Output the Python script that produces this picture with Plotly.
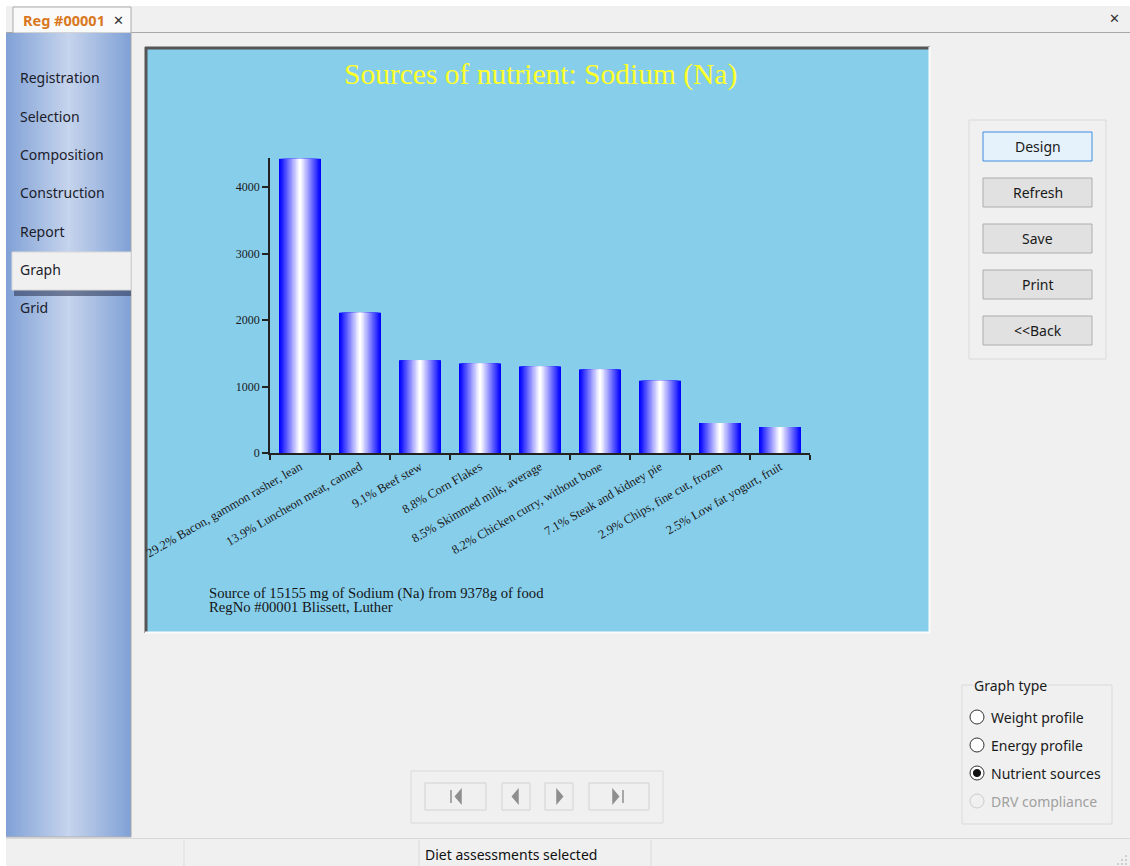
import plotly.graph_objects as go

# ---- chart data ----
pcts = ["29.2", "13.9", "9.1", "8.8", "8.5", "8.2", "7.1", "2.9", "2.5"]
foods = ["Bacon, gammon rasher, lean", "Luncheon meat, canned", "Beef stew",
         "Corn Flakes", "Skimmed milk, average", "Chicken curry, without bone",
         "Steak and kidney pie", "Chips, fine cut, frozen", "Low fat yogurt, fruit"]
sodium_mg = [4425, 2110, 1395, 1345, 1300, 1255, 1085, 450, 390]
y_ticks = [0, 1000, 2000, 3000, 4000]

title_txt = "Sources of nutrient: Sodium (Na)"
footer = ["Source of 15155 mg of Sodium (Na) from 9378g of food",
          "RegNo #00001 Blissett, Luther"]

menu = ["Registration", "Selection", "Composition", "Construction", "Report", "Graph", "Grid"]
buttons = ["Design", "Refresh", "Save", "Print", "<<Back"]
graph_types = ["Weight profile", "Energy profile", "Nutrient sources", "DRV compliance"]

labels = [f"{p}% {f}" for p, f in zip(pcts, foods)]

W, H = 1130, 866
SERIF = "Liberation Serif, Times New Roman, serif"
UI = "Noto Sans, Open Sans, sans-serif"


def X(p):
    return p / W


def Y(p):
    return 1 - p / H


shapes = []
notes = []


def rect(x0, y0, x1, y1, fill=None, line=None, lw=1):
    shapes.append(dict(type="rect", xref="paper", yref="paper",
                       x0=X(x0), x1=X(x1), y0=Y(y1), y1=Y(y0),
                       fillcolor=fill or "rgba(0,0,0,0)",
                       line=dict(color=line or "rgba(0,0,0,0)", width=lw if line else 0),
                       layer="below"))


def seg(x0, y0, x1, y1, color, lw=1):
    shapes.append(dict(type="line", xref="paper", yref="paper",
                       x0=X(x0), x1=X(x1), y0=Y(y0), y1=Y(y1),
                       line=dict(color=color, width=lw), layer="below"))


def circ(cx, cy, r, fill, line, lw=1):
    shapes.append(dict(type="circle", xref="paper", yref="paper",
                       x0=X(cx - r), x1=X(cx + r), y0=Y(cy + r), y1=Y(cy - r),
                       fillcolor=fill, line=dict(color=line, width=lw), layer="above"))


def txt(x, y, s, size, color="#1a1a1a", family=UI, xa="left", bg=None):
    notes.append(dict(x=X(x), y=Y(y), xref="paper", yref="paper", text=s,
                      showarrow=False, xanchor=xa, yanchor="middle",
                      font=dict(family=family, size=size, color=color),
                      bgcolor=bg, borderpad=0))


# window frame
rect(0, 0, W, H, fill="#ffffff")
rect(6, 6, W, H, fill="#f0f0f0")
seg(6, 32.5, W, 32.5, "#a8a8a8", 1)

# tab
rect(13, 7, 131, 33, fill="#fafafa", line="#acacac")
txt(22, 20, "<b>Reg #00001</b>", 14.5, "#d9781e")
txt(112, 20, "✕", 13, "#333333")
txt(1114, 18, "✕", 13, "#333333", xa="center")

# sidebar: nested rects give a seamless light-centre gradient
edge, mid = (130, 162, 215), (198, 213, 237)
steps = 25
for k in range(steps + 1):
    t = k / steps
    c = tuple(int(edge[i] + (mid[i] - edge[i]) * t) for i in range(3))
    rect(6 + k * 2.44, 33, 131 - k * 2.44, 837, fill="rgb(%d,%d,%d)" % c)
seg(131, 33, 131, 837, "#a6a6a6", 1)
seg(6, 837, 131, 837, "#b0b0b0", 1)

rect(14, 289, 131, 296, fill="rgba(40,50,80,0.55)")
rect(12, 252, 131, 290, fill="#f0f0f0", line="#d8d8d8")
for k, m in enumerate(menu):
    txt(19, 78 + k * 38.3, m, 14, "#1c1c2a")

# chart panel (sunken)
rect(145, 47, 930, 633, fill="#87ceeb")
seg(145, 48, 930, 48, "#555555", 3)
seg(146, 47, 146, 633, "#555555", 3)
seg(145, 632.5, 930, 632.5, "#fbfbfb", 2)
seg(929.5, 47, 929.5, 633, "#fbfbfb", 2)

txt(540, 75, title_txt, 29.5, "#ffff2a", SERIF, xa="center")
txt(208, 593, footer[0], 14.7, "#151515", SERIF)
txt(208, 607, footer[1], 14.7, "#151515", SERIF)

# right-hand buttons
rect(969, 120, 1106, 359, line="#dadada")
for k, b in enumerate(buttons):
    y0 = 132 + k * 46
    if k == 0:
        rect(983, y0, 1092, y0 + 29, fill="#e5f1fb", line="#3c8de0")
    else:
        rect(983, y0, 1092, y0 + 29, fill="#e1e1e1", line="#adadad")
    txt(1037.5, y0 + 14.5, b, 14, "#1a1a1a", xa="center")

# graph type group
rect(962, 685, 1112, 824, line="#dadada")
txt(973, 685, "Graph type", 14, "#1a1a1a", bg="#f0f0f0")
for k, g in enumerate(graph_types):
    cy = 717 + k * 28
    if k == 3:
        circ(977, cy, 7, "#f0f0f0", "#cccccc")
        txt(990, cy, g, 14, "#a0a0a0")
    else:
        circ(977, cy, 7, "#ffffff", "#333333")
        txt(990, cy, g, 14, "#1a1a1a")
circ(977, 773, 3.6, "#111111", "#111111")

# navigation buttons (disabled)
rect(411, 771, 663, 823, line="#dadada")
for x0, x1 in [(425, 486), (502, 530), (545, 573), (589, 649)]:
    rect(x0, 783, x1, 810, fill="#f0f0f0", line="#d2d2d2")
nav_paths = [
    "M {a},{t} L {a},{b} M {c},{t} L {d},{m} L {c},{b} Z".format(
        a=X(451), c=X(461), d=X(455.5), t=Y(790), b=Y(803), m=Y(796.5)),
    "M {c},{t} L {d},{m} L {c},{b} Z".format(c=X(518), d=X(512.5), t=Y(790), b=Y(803), m=Y(796.5)),
    "M {c},{t} L {d},{m} L {c},{b} Z".format(c=X(557), d=X(562.5), t=Y(790), b=Y(803), m=Y(796.5)),
    "M {c},{t} L {d},{m} L {c},{b} Z M {a},{t} L {a},{b}".format(
        a=X(623), c=X(613), d=X(618.5), t=Y(790), b=Y(803), m=Y(796.5)),
]
for p in nav_paths:
    shapes.append(dict(type="path", xref="paper", yref="paper", path=p,
                       fillcolor="#8e8e8e", line=dict(color="#8e8e8e", width=1.5), layer="above"))

# status bar
seg(6, 838.5, W, 838.5, "#d8d8d8", 1)
for xs in [184, 419, 651]:
    seg(xs, 840, xs, H, "#dcdcdc", 1)
txt(424, 854, "Diet assessments selected", 14, "#111111")
for gx, gy in [(1126, 856), (1122, 860), (1126, 860), (1118, 864), (1122, 864), (1126, 864)]:
    rect(gx - 0.8, gy - 0.8, gx + 0.8, gy + 0.8, fill="#b8b8b8")

# ---- bars: overlaid layers give the blue-white-blue cylinder shading ----
fig = go.Figure()
n = 16
for k in range(n):
    t = k / (n - 1)
    c = "rgb(%d,%d,255)" % (int(255 * t), int(255 * t))
    fig.add_trace(go.Bar(x=labels, y=sodium_mg, width=0.7 * (1 - k / n),
                         marker=dict(color=c, line=dict(width=0)),
                         hoverinfo="skip", showlegend=False))

fig.update_layout(
    width=W, height=H, margin=dict(l=0, r=0, t=0, b=0, autoexpand=False),
    paper_bgcolor="#ffffff", plot_bgcolor="rgba(0,0,0,0)",
    barmode="overlay", shapes=shapes, annotations=notes, showlegend=False,
    xaxis=dict(domain=[X(270), X(810)], range=[-0.5, 8.5], type="category",
               automargin=False,
               showline=True, linecolor="#222222", linewidth=1.5,
               ticks="outside", ticklen=5, tickwidth=1.5, tickcolor="#222222",
               tickson="boundaries", tickangle=-30, showgrid=False,
               tickfont=dict(family=SERIF, size=12.5, color="#1a1a1a")),
    yaxis=dict(domain=[Y(453), Y(158.4)], range=[0, 4430], automargin=False,
               tickvals=y_ticks, showline=True, linecolor="#222222", linewidth=1.5,
               ticks="outside", ticklen=6, tickwidth=1.5, tickcolor="#222222",
               showgrid=False, zeroline=False,
               tickfont=dict(family=SERIF, size=12, color="#1a1a1a")),
)

fig.write_html("out.html", config={"displayModeBar": False},
               post_script="document.body.style.margin='0';")
